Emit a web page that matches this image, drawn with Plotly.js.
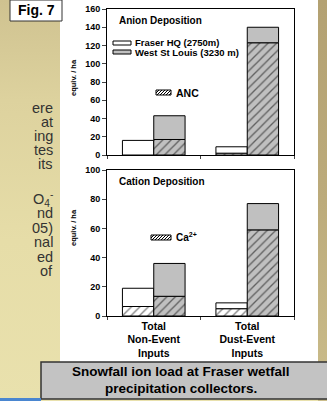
<!DOCTYPE html>
<html>
<head>
<meta charset="utf-8">
<script src="https://cdn.plot.ly/plotly-3.0.1.min.js"></script>
<style>
html,body{margin:0;padding:0;}
body{width:327px;height:401px;overflow:hidden;position:relative;
background:linear-gradient(to bottom,#cfc290 0%,#ddd29e 25%,#e6dda8 60%,#e9e1ad 100%);}
#strip{position:absolute;left:318px;top:0;width:9px;height:401px;
background:linear-gradient(to bottom,#b3a172 0%,#bcab7b 50%,#cbbd8b 100%);}
#chart{position:absolute;left:0;top:0;width:327px;height:401px;}
</style>
</head>
<body>
<div id="strip"></div>
<div id="chart"></div>
<script>
// ---------- data ----------
const categories = ["Total<br>Non-Event<br>Inputs", "Total<br>Dust-Event<br>Inputs"];
const seriesNames = ["Fraser HQ (2750m)", "West St Louis (3230 m)"];
// Anion deposition (equiv./ha)
const anionFraserTotal = [16, 9];
const anionFraserANC   = [0, 2];
const anionWSLTotal    = [43, 140];
const anionWSLANC      = [17, 123];
// Cation deposition (equiv./ha)
const cationFraserTotal = [19, 9];
const cationFraserCa    = [6.5, 5];
const cationWSLTotal    = [36, 77];
const cationWSLCa       = [13.5, 59];
const leftText = ["ere", "at", "ing", "tes", "its", "O<sub>4</sub><sup>-</sup>", "nd", "05)", "nal", "ed", "of"];

// ---------- helpers ----------
const W = 327, H = 401;
const X = p => p / W;
const Y = p => 1 - p / H;
const FONT = "Liberation Sans, Arial, sans-serif";
const WHITE = "#ffffff", GRAY = "#c0c0c0";
const BW = 0.335;

function sub(a, b){ return a.map((v,i)=>v-b[i]); }

function barPair(total, part, color, offset, xa, ya, name){
  return [
    {type:'bar', x:categories, y:part, xaxis:xa, yaxis:ya, name:name,
     width:BW, offset:offset,
     marker:{color:color, line:{color:'#000', width:1},
       pattern:{shape:'/', fgcolor:'#000', size:6, solidity:0.22, fillmode:'overlay'}},
     hoverinfo:'skip'},
    {type:'bar', x:categories, y:sub(total, part), base:part, xaxis:xa, yaxis:ya, name:name,
     width:BW, offset:offset,
     marker:{color:color, line:{color:'#000', width:1}}, hoverinfo:'skip'}
  ];
}

const data = [].concat(
  barPair(anionFraserTotal, anionFraserANC, WHITE, -BW, 'x', 'y', seriesNames[0]),
  barPair(anionWSLTotal, anionWSLANC, GRAY, 0, 'x', 'y', seriesNames[1]),
  barPair(cationFraserTotal, cationFraserCa, WHITE, -BW, 'x2', 'y2', seriesNames[0]),
  barPair(cationWSLTotal, cationWSLCa, GRAY, 0, 'x2', 'y2', seriesNames[1])
);

// ---------- decorations ----------
function rectPx(x0,y0,x1,y1,fill,lineColor,lw,layer){
  return {type:'rect', xref:'paper', yref:'paper', x0:X(x0), x1:X(x1), y0:Y(y1), y1:Y(y0),
    fillcolor:fill, line:{color:lineColor||fill, width:lw===undefined?1:lw}, layer:layer||'above'};
}
function hatchPx(x0,y0,x1,y1){
  const h = y1 - y0; let d = '';
  for(let x = x0 - h; x < x1; x += 3){
    let ax = x, ay = y1, bx = x + h, by = y0;
    if(ax < x0){ ay = y1 - (x0 - ax); ax = x0; }
    if(bx > x1){ by = y0 + (bx - x1); bx = x1; }
    d += `M${X(ax)},${Y(ay)}L${X(bx)},${Y(by)}`;
  }
  return {type:'path', xref:'paper', yref:'paper', path:d, line:{color:'#000', width:1}, layer:'above'};
}

const shapes = [
  rectPx(60, 0, 318, 362, '#ffffff', '#ffffff', 0, 'below'),
  rectPx(10, 0, 62, 21, '#ffffff', '#333333', 1, 'above'),
  rectPx(41, 362, 330, 399, '#c3c3c3', '#333333', 1.5, 'above'),
  rectPx(0, 398, 41, 401, '#4a86d0', '#4a86d0', 0, 'above'),
  // legend swatches
  rectPx(113, 41, 131, 45, '#ffffff', '#000', 1),
  rectPx(113, 50, 131, 54, GRAY, '#000', 1),
  rectPx(156, 90, 171, 95, '#ffffff', '#000', 1),
  hatchPx(156, 90, 171, 95),
  rectPx(151, 235, 171, 240, '#ffffff', '#000', 1),
  hatchPx(151, 235, 171, 240)
];

function ann(text, x, y, size, opts){
  return Object.assign({text:text, xref:'paper', yref:'paper', x:X(x), y:Y(y),
    xanchor:'left', yanchor:'middle', showarrow:false,
    font:{family:FONT, size:size, color:'#000', weight:'bold'}}, opts||{});
}

const annotations = [
  ann('Fig. 7', 36, 10.5, 14, {xanchor:'center'}),
  ann('Anion Deposition', 117, 20, 10),
  ann(seriesNames[0], 133, 43, 9.5),
  ann(seriesNames[1], 133, 52, 9.5),
  ann('ANC', 174, 92.5, 10.5),
  ann('Cation Deposition', 117, 181, 10),
  ann('Ca<sup>2+</sup>', 174, 237, 10),
  ann('equiv. / ha', 73, 78, 7.5, {xanchor:'center', textangle:-90}),
  ann('equiv. / ha', 73, 228, 7.5, {xanchor:'center', textangle:-90}),
  ann('Snowfall ion load at Fraser wetfall', 181, 371, 13.5, {xanchor:'center'}),
  ann('precipitation collectors.', 181, 388, 13.5, {xanchor:'center'})
];
const leftY = [108, 122, 136, 150, 164, 199, 213, 228, 242, 257, 271];
leftText.forEach((t,i)=>{
  annotations.push({text:t, xref:'paper', yref:'paper', x:X(55), y:Y(leftY[i]),
    xanchor:'right', yanchor:'middle', showarrow:false,
    font:{family:FONT, size:14.5, color:'#333333'}});
});

const axisBase = {showline:true, linecolor:'#000', linewidth:1, mirror:true,
  showgrid:false, zeroline:false, fixedrange:true};
const tickFont = {family:FONT, size:9, color:'#000', weight:'bold'};

const layout = {
  width:W, height:H, margin:{l:0, r:0, t:0, b:0, pad:0},
  paper_bgcolor:'rgba(0,0,0,0)', plot_bgcolor:'#ffffff',
  showlegend:false, barmode:'overlay',
  xaxis: Object.assign({}, axisBase, {domain:[X(107), X(294)], anchor:'y', type:'category',
    range:[-0.5, 1.5], showticklabels:false, ticks:'outside', tickson:'boundaries', ticklen:3}),
  yaxis: Object.assign({}, axisBase, {domain:[Y(155), Y(9)], anchor:'x', range:[0,160],
    dtick:20, ticks:'outside', ticklen:4, tickfont:tickFont}),
  xaxis2: Object.assign({}, axisBase, {domain:[X(107), X(294)], anchor:'y2', type:'category',
    range:[-0.5, 1.5], ticks:'outside', tickson:'boundaries', ticklen:3,
    tickfont:{family:FONT, size:10.5, color:'#000', weight:'bold'}}),
  yaxis2: Object.assign({}, axisBase, {domain:[Y(316), Y(170)], anchor:'x2', range:[0,100],
    dtick:20, ticks:'outside', ticklen:4, tickfont:tickFont}),
  shapes:shapes, annotations:annotations
};

Plotly.newPlot('chart', data, layout, {staticPlot:true, displayModeBar:false});
</script>
</body>
</html>
